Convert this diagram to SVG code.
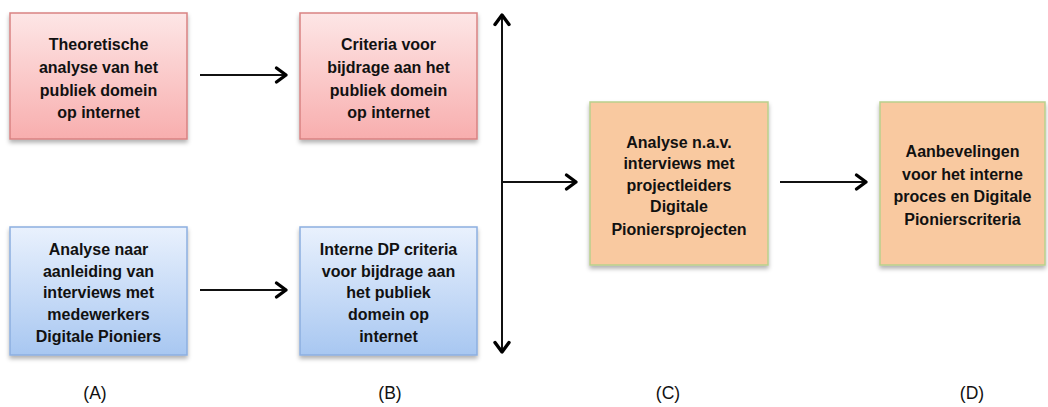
<svg xmlns="http://www.w3.org/2000/svg" width="1048" height="407" viewBox="0 0 1048 407">
<defs>
<linearGradient id="gRed" x1="0" y1="0" x2="0" y2="1"><stop offset="0" stop-color="#fde6e6"/><stop offset="1" stop-color="#f8aeae"/></linearGradient>
<linearGradient id="gBlue" x1="0" y1="0" x2="0" y2="1"><stop offset="0" stop-color="#e9f1fd"/><stop offset="1" stop-color="#a8c7f1"/></linearGradient>
<filter id="sh" x="-10%" y="-10%" width="120%" height="130%"><feDropShadow dx="0" dy="3" stdDeviation="2" flood-color="#000" flood-opacity="0.3"/></filter>
<marker id="ah" markerUnits="userSpaceOnUse" markerWidth="20" markerHeight="20" viewBox="-12 -10 14 20" refX="0" refY="0" orient="auto-start-reverse">
<path d="M -9.5 -7 L 0 0 L -9.5 7" fill="none" stroke="#000" stroke-width="3.4" stroke-linejoin="round" stroke-linecap="round"/>
</marker>
<style>
.red{fill:url(#gRed);stroke:#d98282;stroke-width:1.5;filter:url(#sh)}
.blue{fill:url(#gBlue);stroke:#8cafe0;stroke-width:1.5;filter:url(#sh)}
.orange{fill:#f9c9a0;stroke:#b9d08c;stroke-width:1.5;filter:url(#sh)}
.t{font-family:"Liberation Sans",Arial,sans-serif;font-weight:bold;font-size:16px;fill:#111;text-anchor:middle}
.lbl{font-family:"Liberation Sans",Arial,sans-serif;font-size:17.5px;fill:#111;text-anchor:middle}
.c{stroke:#111;stroke-width:2;fill:none;marker-end:url(#ah)}
</style>
</defs>
<g id="nodeA1">
<rect class="red" x="10" y="13" width="177" height="126"/>
<text class="t"><tspan x="98.5" y="50">Theoretische</tspan><tspan x="98.5" y="73">analyse van het</tspan><tspan x="98.5" y="96">publiek domein</tspan><tspan x="98.5" y="118">op internet</tspan></text>
</g>
<g id="nodeB1">
<rect class="red" x="300" y="13" width="177" height="126"/>
<text class="t"><tspan x="388.5" y="50">Criteria voor</tspan><tspan x="388.5" y="73">bijdrage aan het</tspan><tspan x="388.5" y="96">publiek domein</tspan><tspan x="388.5" y="118">op internet</tspan></text>
</g>
<g id="nodeA2">
<rect class="blue" x="10" y="227" width="177" height="128"/>
<text class="t"><tspan x="98.5" y="255">Analyse naar</tspan><tspan x="98.5" y="277">aanleiding van</tspan><tspan x="98.5" y="298">interviews met</tspan><tspan x="98.5" y="320">medewerkers</tspan><tspan x="98.5" y="342">Digitale Pioniers</tspan></text>
</g>
<g id="nodeB2">
<rect class="blue" x="300" y="227" width="177" height="128"/>
<text class="t"><tspan x="388.5" y="255">Interne DP criteria</tspan><tspan x="388.5" y="277">voor bijdrage aan</tspan><tspan x="388.5" y="298">het publiek</tspan><tspan x="388.5" y="320">domein op</tspan><tspan x="388.5" y="342">internet</tspan></text>
</g>
<g id="nodeC">
<rect class="orange" x="590" y="102" width="178" height="163"/>
<text class="t"><tspan x="679" y="148">Analyse n.a.v.</tspan><tspan x="679" y="169">interviews met</tspan><tspan x="679" y="191">projectleiders</tspan><tspan x="679" y="212">Digitale</tspan><tspan x="679" y="235">Pioniersprojecten</tspan></text>
</g>
<g id="nodeD">
<rect class="orange" x="880" y="102" width="165" height="163"/>
<text class="t"><tspan x="962.5" y="157">Aanbevelingen</tspan><tspan x="962.5" y="180">voor het interne</tspan><tspan x="962.5" y="202">proces en Digitale</tspan><tspan x="962.5" y="225">Pionierscriteria</tspan></text>
</g>
<g id="connectors">
<line class="c" x1="200" y1="75" x2="286" y2="75"/>
<line class="c" x1="200" y1="290" x2="286" y2="290"/>
<line class="c" x1="502" y1="352" x2="502" y2="15" style="marker-start:url(#ah)"/>
<line class="c" x1="502" y1="182" x2="576" y2="182"/>
<line class="c" x1="780" y1="182" x2="866" y2="182"/>
</g>
<g id="labels">
<text class="lbl" x="95" y="399">(A)</text>
<text class="lbl" x="390" y="399">(B)</text>
<text class="lbl" x="668" y="399">(C)</text>
<text class="lbl" x="972" y="399">(D)</text>
</g>
</svg>
